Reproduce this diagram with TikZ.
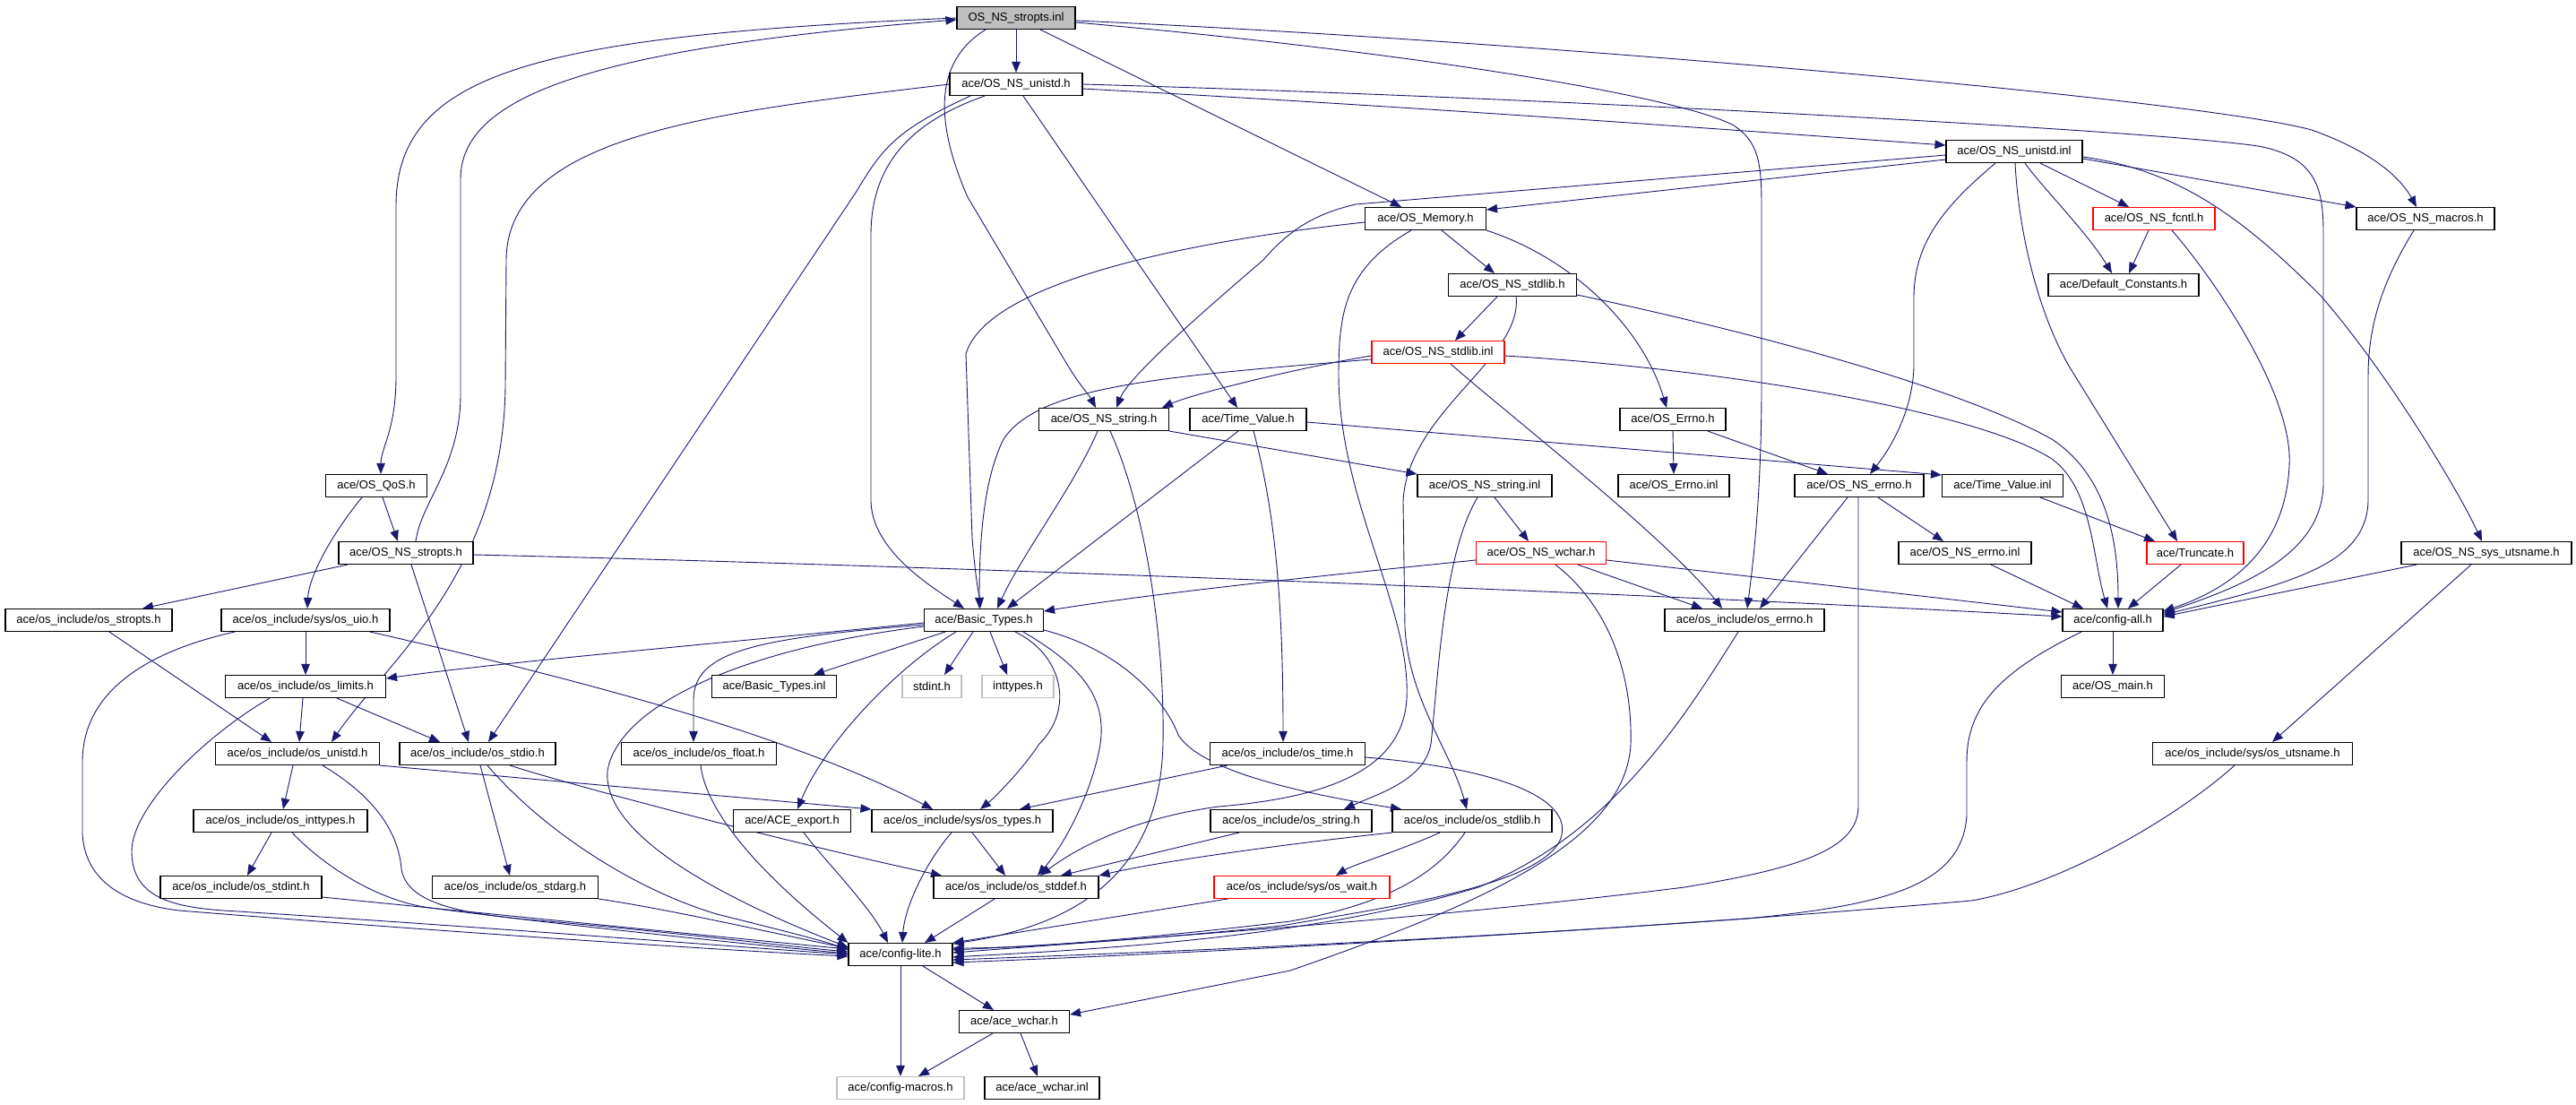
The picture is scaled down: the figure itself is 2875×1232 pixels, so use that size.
\documentclass[tikz,border=0pt]{standalone}
\usepackage{fontspec}
\setmainfont{Liberation Sans}
\usetikzlibrary{arrows.meta}
\pgfdeclarelayer{bg}
\pgfsetlayers{bg,main}
\definecolor{mblue}{RGB}{25,25,112}
\definecolor{grayb}{RGB}{191,191,191}
\begin{document}
\begin{tikzpicture}[x=1pt,y=-1pt,
 nbox/.style={draw=black,line width=1.1pt,fill=white,inner sep=0pt,minimum height=25pt,font=\fontsize{13}{15}\selectfont,text=black},
 redbox/.style={nbox,draw=red},
 graybox/.style={nbox,draw=grayb},
 rootbox/.style={nbox,fill=grayb},
 dep/.style={draw=mblue,line width=0.9pt,-{Triangle[length=12pt,width=9.5pt]}}]
\useasboundingbox (0,0) rectangle (2875,1232);
% nodes
\node[rootbox,minimum width=132pt] (root) at (1134,20) {OS\_NS\_stropts.inl};
\node[nbox,minimum width=148pt] (unistdh) at (1134,94) {ace/OS\_NS\_unistd.h};
\node[nbox,minimum width=152pt] (unistdinl) at (2248,169) {ace/OS\_NS\_unistd.inl};
\node[nbox,minimum width=135pt] (memory) at (1591,244) {ace/OS\_Memory.h};
\node[redbox,minimum width=136pt] (fcntl) at (2404,244) {ace/OS\_NS\_fcntl.h};
\node[nbox,minimum width=154pt] (macros) at (2707,244) {ace/OS\_NS\_macros.h};
\node[nbox,minimum width=143pt] (stdlibh) at (1688,318) {ace/OS\_NS\_stdlib.h};
\node[nbox,minimum width=168pt] (defconst) at (2370,318) {ace/Default\_Constants.h};
\node[redbox,minimum width=148pt] (stdlibinl) at (1605,393) {ace/OS\_NS\_stdlib.inl};
\node[nbox,minimum width=145pt] (stringh) at (1232,468) {ace/OS\_NS\_string.h};
\node[nbox,minimum width=130pt] (timevalh) at (1393,468) {ace/Time\_Value.h};
\node[nbox,minimum width=118pt] (errnoh) at (1867,468) {ace/OS\_Errno.h};
\node[nbox,minimum width=113pt] (qos) at (420,542) {ace/OS\_QoS.h};
\node[nbox,minimum width=150pt] (stringinl) at (1657,542) {ace/OS\_NS\_string.inl};
\node[nbox,minimum width=124pt] (errnoinl) at (1868,542) {ace/OS\_Errno.inl};
\node[nbox,minimum width=144pt] (nserrnoh) at (2075,542) {ace/OS\_NS\_errno.h};
\node[nbox,minimum width=135pt] (timevalinl) at (2235,542) {ace/Time\_Value.inl};
\node[nbox,minimum width=150pt] (stroptsh) at (453,617) {ace/OS\_NS\_stropts.h};
\node[redbox,minimum width=145pt] (wcharh) at (1720,617) {ace/OS\_NS\_wchar.h};
\node[nbox,minimum width=148pt] (nserrnoinl) at (2193,617) {ace/OS\_NS\_errno.inl};
\node[redbox,minimum width=108pt] (truncate) at (2450,617) {ace/Truncate.h};
\node[nbox,minimum width=190pt] (utsnameh) at (2775,617) {ace/OS\_NS\_sys\_utsname.h};
\node[nbox,minimum width=186pt] (osstropts) at (99,692) {ace/os\_include/os\_stropts.h};
\node[nbox,minimum width=188pt] (osuio) at (341,692) {ace/os\_include/sys/os\_uio.h};
\node[nbox,minimum width=133pt] (basic) at (1098,692) {ace/Basic\_Types.h};
\node[nbox,minimum width=178pt] (oserrno) at (1947,692) {ace/os\_include/os\_errno.h};
\node[nbox,minimum width=112pt] (configall) at (2358,692) {ace/config-all.h};
\node[nbox,minimum width=179pt] (oslimits) at (341,766) {ace/os\_include/os\_limits.h};
\node[nbox,minimum width=139pt] (basicinl) at (864,766) {ace/Basic\_Types.inl};
\node[graybox,minimum width=66pt] (stdint) at (1040,766) {stdint.h};
\node[graybox,minimum width=80pt] (inttypes) at (1136,766) {inttypes.h};
\node[nbox,minimum width=115pt] (osmain) at (2358,766) {ace/OS\_main.h};
\node[nbox,minimum width=183pt] (osunistd) at (332,841) {ace/os\_include/os\_unistd.h};
\node[nbox,minimum width=174pt] (osstdio) at (533,841) {ace/os\_include/os\_stdio.h};
\node[nbox,minimum width=173pt] (osfloat) at (780,841) {ace/os\_include/os\_float.h};
\node[nbox,minimum width=173pt] (ostime) at (1437,841) {ace/os\_include/os\_time.h};
\node[nbox,minimum width=223pt] (osutsname) at (2514,841) {ace/os\_include/sys/os\_utsname.h};
\node[nbox,minimum width=194pt] (osinttypes) at (313,916) {ace/os\_include/os\_inttypes.h};
\node[nbox,minimum width=131pt] (aceexport) at (884,916) {ace/ACE\_export.h};
\node[nbox,minimum width=202pt] (ostypes) at (1074,916) {ace/os\_include/sys/os\_types.h};
\node[nbox,minimum width=180pt] (osstring) at (1441,916) {ace/os\_include/os\_string.h};
\node[nbox,minimum width=178pt] (osstdlib) at (1643,916) {ace/os\_include/os\_stdlib.h};
\node[nbox,minimum width=180pt] (osstdint) at (269,990) {ace/os\_include/os\_stdint.h};
\node[nbox,minimum width=185pt] (osstdarg) at (575,990) {ace/os\_include/os\_stdarg.h};
\node[nbox,minimum width=184pt] (osstddef) at (1134,990) {ace/os\_include/os\_stddef.h};
\node[redbox,minimum width=196pt] (oswait) at (1453,990) {ace/os\_include/sys/os\_wait.h};
\node[nbox,minimum width=116pt] (configlite) at (1005,1065) {ace/config-lite.h};
\node[nbox,minimum width=123pt] (acewchar) at (1132,1140) {ace/ace\_wchar.h};
\node[graybox,minimum width=142pt] (configmacros) at (1005,1214) {ace/config-macros.h};
\node[nbox,minimum width=128pt] (acewcharinl) at (1163,1214) {ace/ace\_wchar.inl};
\begin{pgfonlayer}{bg}
\fill[white] (0,0) rectangle (2875,1232);
% root
\draw[dep] (root.south) -- (unistdh.north);
\draw[dep] (root.west) .. controls (600,40) and (442,80) .. (442,230) -- (442,420) .. controls (442,480) and (425,500) .. ([xshift=5pt]qos.north);
\draw[dep] ([xshift=11pt]stroptsh.north) .. controls (470,560) and (514,520) .. (514,440) -- (514,200) .. controls (514,110) and (650,55) .. ([yshift=-2pt]root.west);
\draw[dep] ([xshift=-34pt]root.south) .. controls (1040,70) and (1045,140) .. (1080,220) -- (1190,405) .. controls (1205,430) and (1215,440) .. ([xshift=-9pt]stringh.north);
\draw[dep] ([xshift=27pt]root.south) -- ([xshift=-27pt]memory.north);
\draw[dep] ([yshift=-3pt]root.east) .. controls (1700,45) and (2450,110) .. (2580,145) .. controls (2650,170) and (2680,200) .. ([xshift=-10pt]macros.north);
\draw[dep] ([yshift=-5pt]root.east) .. controls (1600,60) and (1880,110) .. (1935,140) .. controls (1962,158) and (1966,180) .. (1966,230) -- (1966,430) .. controls (1966,560) and (1955,640) .. ([xshift=3pt]oserrno.north);
% unistdh
\draw[dep] (unistdh.west) .. controls (800,125) and (566,150) .. (565,290) -- (564,430) .. controls (562,640) and (430,740) .. ([xshift=38pt]osunistd.north);
\draw[dep] ([xshift=-51pt]unistdh.south) .. controls (1000,145) and (985,165) .. (955,215) -- ([xshift=12pt]osstdio.north);
\draw[dep] ([xshift=-35pt]unistdh.south) .. controls (1020,135) and (973,180) .. (972,260) -- (972,560) .. controls (974,615) and (1040,655) .. ([xshift=-22pt]basic.north);
\draw[dep] ([xshift=8pt]unistdh.south) -- ([xshift=-12pt]timevalh.north);
\draw[dep] (unistdh.east) .. controls (1700,108) and (2400,145) .. (2520,163) .. controls (2585,175) and (2593,210) .. (2593,260) -- (2593,540) .. controls (2592,620) and (2500,655) .. ([yshift=8pt]configall.east);
\draw[dep] ([yshift=-5pt]unistdh.east) .. controls (1600,120) and (2000,150) .. ([yshift=7pt]unistdinl.west);
% unistdinl
\draw[dep] ([yshift=-9pt]unistdinl.west) -- ([yshift=10pt]memory.east);
\draw[dep] ([yshift=-4pt]unistdinl.west) -- (1513,228) .. controls (1470,238) and (1440,255) .. (1410,290) .. controls (1340,350) and (1260,420) .. ([xshift=14pt]stringh.north);
\draw[dep] ([xshift=-21pt]unistdinl.south) .. controls (2170,230) and (2137,270) .. (2136,330) -- (2136,410) .. controls (2134,460) and (2110,500) .. ([xshift=12pt]nserrnoh.north);
\draw[dep] ([xshift=1pt]unistdinl.south) .. controls (2253,260) and (2275,350) .. (2310,410) -- ([xshift=-20pt]truncate.north);
\draw[dep] ([xshift=12pt]unistdinl.south) .. controls (2280,210) and (2330,260) .. ([xshift=-13pt]defconst.north);
\draw[dep] ([xshift=29pt]unistdinl.south) -- ([xshift=-28pt]fcntl.north);
\draw[dep] ([yshift=-8pt]unistdinl.east) -- (macros.north west);
\draw[dep] ([yshift=-6pt]unistdinl.east) .. controls (2430,190) and (2500,240) .. (2590,330) .. controls (2660,410) and (2740,540) .. ([xshift=-5pt]utsnameh.north);
% memory
\draw[dep] ([xshift=18pt]memory.south) -- ([xshift=-20pt]stdlibh.north);
\draw[dep] ([yshift=-4pt]memory.west) .. controls (1300,272) and (1100,320) .. (1078,395) -- (1085,600) .. controls (1089,650) and (1093,665) .. ([xshift=-4pt]basic.north);
\draw[dep] (memory.south east) .. controls (1760,290) and (1835,370) .. ([xshift=-7pt]errnoh.north);
\draw[dep] ([xshift=-16pt]memory.south) .. controls (1500,300) and (1494,350) .. (1494,420) .. controls (1495,560) and (1575,680) .. (1570,780) .. controls (1565,860) and (1480,890) .. (1360,900) .. controls (1250,915) and (1190,955) .. ([xshift=27pt]osstddef.north);
% fcntl, macros
\draw[dep] ([xshift=-6pt]fcntl.south) -- ([xshift=6pt]defconst.north);
\draw[dep] ([xshift=20pt]fcntl.south) .. controls (2470,310) and (2560,440) .. (2555,520) .. controls (2550,620) and (2480,660) .. ([yshift=10pt]configall.east);
\draw[dep] ([xshift=-13pt]macros.south) .. controls (2655,320) and (2643,370) .. (2643,420) -- (2643,560) .. controls (2640,630) and (2560,650) .. ([yshift=6pt]configall.east);
% stdlibh
\draw[dep] ([xshift=-17pt]stdlibh.south) -- ([xshift=19pt]stdlibinl.north);
\draw[dep] ([xshift=4pt]stdlibh.south) .. controls (1700,400) and (1570,460) .. (1566,560) -- (1568,700) .. controls (1572,780) and (1620,840) .. ([xshift=-6pt]osstdlib.north);
\draw[dep] ([yshift=-11pt]stdlibh.east) .. controls (2000,380) and (2200,440) .. (2290,490) .. controls (2350,530) and (2364,600) .. ([xshift=6pt]configall.north);
% stdlibinl
\draw[dep] ([yshift=-4pt]stdlibinl.west) .. controls (1450,410) and (1330,440) .. ([xshift=65pt]stringh.north);
\draw[dep] ([yshift=-8pt]stdlibinl.west) .. controls (1300,420) and (1160,430) .. (1120,490) .. controls (1095,540) and (1093,620) .. ([xshift=-5pt]basic.north);
\draw[dep] ([xshift=14pt]stdlibinl.south) .. controls (1680,460) and (1860,600) .. ([xshift=-25pt]oserrno.north);
\draw[dep] ([yshift=-4pt]stdlibinl.east) .. controls (1900,410) and (2200,455) .. (2290,512) .. controls (2335,545) and (2335,620) .. ([xshift=-6pt]configall.north);
% stringh
\draw[dep] ([xshift=-7pt]stringh.south) .. controls (1200,540) and (1140,620) .. ([xshift=15pt]basic.north);
\draw[dep] (stringh.south east) -- (stringinl.north west);
\draw[dep] ([xshift=7pt]stringh.south) .. controls (1275,560) and (1300,700) .. (1298,830) .. controls (1295,960) and (1220,1030) .. ([yshift=12pt]configlite.east);
% timevalh
\draw[dep] ([xshift=-11pt]timevalh.south) -- ([xshift=26pt]basic.north);
\draw[dep] ([yshift=-3pt]timevalh.east) -- ([yshift=12pt]timevalinl.west);
\draw[dep] ([xshift=6pt]timevalh.south) .. controls (1420,560) and (1432,650) .. ([xshift=-5pt]ostime.north);
% errnoh
\draw[dep] (errnoh.south) -- (errnoinl.north);
\draw[dep] ([xshift=39pt]errnoh.south) -- ([xshift=-35pt]nserrnoh.north);
% qos
\draw[dep] ([xshift=7pt]qos.south) -- ([xshift=-9pt]stroptsh.north);
\draw[dep] ([xshift=-16pt]qos.south) .. controls (375,590) and (345,640) .. ([xshift=2pt]osuio.north);
% stroptsh
\draw[dep] ([xshift=-65pt]stroptsh.south) -- ([xshift=60pt]osstropts.north);
\draw[dep] ([yshift=-2pt]stroptsh.east) .. controls (1000,630) and (1800,660) .. ([yshift=4pt]configall.west);
\draw[dep] ([xshift=6pt]stroptsh.south) -- ([xshift=-10pt]osstdio.north);
% stringinl
\draw[dep] ([xshift=11pt]stringinl.south) -- ([xshift=-14pt]wcharh.north);
\draw[dep] ([xshift=-8pt]stringinl.south) .. controls (1610,620) and (1605,760) .. (1597,830) .. controls (1590,870) and (1540,885) .. ([xshift=59pt]osstring.north);
% nserrnoh
\draw[dep] ([xshift=-13pt]nserrnoh.south) -- ([xshift=17pt]oserrno.north);
\draw[dep] ([xshift=21pt]nserrnoh.south) -- ([xshift=-24pt]nserrnoinl.north);
\draw[dep] ([xshift=-1pt]nserrnoh.south) -- (2074,900) .. controls (2074,950) and (2000,970) .. (1880,990) .. controls (1600,1025) and (1300,1045) .. ([yshift=2pt]configlite.east);
% timevalinl
\draw[dep] ([xshift=42pt]timevalinl.south) -- ([xshift=-45pt]truncate.north);
% wcharh
\draw[dep] ([yshift=-8pt]wcharh.west) .. controls (1500,640) and (1300,660) .. ([yshift=10pt]basic.east);
\draw[dep] ([xshift=41pt]wcharh.south) -- ([xshift=-47pt]oserrno.north);
\draw[dep] ([yshift=-8pt]wcharh.east) -- ([yshift=9pt]configall.west);
\draw[dep] ([xshift=16pt]wcharh.south) .. controls (1800,680) and (1822,760) .. (1820,830) .. controls (1815,940) and (1650,1010) .. (1440,1083) -- ([yshift=8pt]acewchar.east);
% nserrnoinl, truncate, utsnameh
\draw[dep] ([xshift=29pt]nserrnoinl.south) -- ([xshift=-33pt]configall.north);
\draw[dep] ([xshift=-16pt]truncate.south) -- ([xshift=17pt]configall.north);
\draw[dep] ([xshift=-78pt]utsnameh.south) -- ([yshift=4pt]configall.east);
\draw[dep] ([xshift=-17pt]utsnameh.south) -- ([xshift=22pt]osutsname.north);
% osstropts
\draw[dep] ([xshift=23pt]osstropts.south) -- ([xshift=-29pt]osunistd.north);
% osuio
\draw[dep] (osuio.south) -- (oslimits.north);
\draw[dep] ([xshift=72pt]osuio.south) .. controls (700,770) and (900,830) .. ([xshift=-33pt]ostypes.north);
\draw[dep] ([xshift=-79pt]osuio.south) .. controls (150,730) and (92,780) .. (92,850) -- (92,930) .. controls (95,990) and (150,1010) .. (200,1016) .. controls (500,1040) and (800,1060) .. ([yshift=-2pt]configlite.west);
% oslimits
\draw[dep] ([xshift=-3pt]oslimits.south) -- ([xshift=2pt]osunistd.north);
\draw[dep] ([xshift=35pt]oslimits.south) -- ([xshift=-42pt]osstdio.north);
\draw[dep] ([xshift=-40pt]oslimits.south) .. controls (230,820) and (147,900) .. (147,950) .. controls (147,1000) and (190,1012) .. (250,1016) .. controls (550,1035) and (800,1055) .. (configlite.west);
% basic
\draw[dep] ([xshift=-43pt]basic.south) -- ([xshift=44pt]basicinl.north);
\draw[dep] ([xshift=-12pt]basic.south) -- ([xshift=14pt]stdint.north);
\draw[dep] ([xshift=7pt]basic.south) -- ([xshift=-12pt]inttypes.north);
\draw[dep] ([yshift=-3pt]basic.west) .. controls (800,718) and (550,740) .. ([yshift=9pt]oslimits.east);
\draw[dep] ([yshift=-5pt]basic.west) .. controls (850,712) and (775,725) .. (774,780) -- ([xshift=-6pt]osfloat.north);
\draw[dep] ([yshift=-7pt]basic.west) .. controls (820,725) and (690,790) .. (678,860) .. controls (672,930) and (800,1000) .. ([yshift=8pt]configlite.west);
\draw[dep] ([xshift=-31pt]basic.south) .. controls (1000,745) and (920,830) .. ([xshift=6pt]aceexport.north);
\draw[dep] ([xshift=35pt]basic.south) .. controls (1185,730) and (1200,790) .. (1160,830) .. controls (1140,860) and (1110,890) .. ([xshift=20pt]ostypes.north);
\draw[dep] ([xshift=44pt]basic.south) .. controls (1210,745) and (1235,780) .. (1228,830) .. controls (1220,880) and (1190,940) .. ([xshift=24pt]osstddef.north);
\draw[dep] ([yshift=-11pt]basic.east) .. controls (1250,725) and (1300,780) .. (1315,820) .. controls (1340,860) and (1450,885) .. ([xshift=-79pt]osstdlib.north);
% oserrno
\draw[dep] ([xshift=-7pt]oserrno.south) .. controls (1880,800) and (1800,930) .. (1650,990) .. controls (1450,1050) and (1200,1060) .. ([yshift=-3pt]configlite.east);
% configall
\draw[dep] (configall.south) -- (osmain.north);
\draw[dep] ([xshift=-35pt]configall.south) .. controls (2230,750) and (2195,790) .. (2195,850) -- (2195,910) .. controls (2190,990) and (2100,1010) .. (1950,1025) .. controls (1600,1050) and (1300,1062) .. ([yshift=-6pt]configlite.east);
% osutsname
\draw[dep] ([xshift=-20pt]osutsname.south) .. controls (2420,920) and (2290,990) .. (2200,1005) .. controls (1800,1040) and (1300,1065) .. ([yshift=-9pt]configlite.east);
% osunistd
\draw[dep] ([xshift=-5pt]osunistd.south) -- ([xshift=3pt]osinttypes.north);
\draw[dep] (osunistd.south east) -- ([yshift=13pt]ostypes.west);
\draw[dep] ([xshift=28pt]osunistd.south) .. controls (420,890) and (445,930) .. (448,970) .. controls (455,1010) and (520,1020) .. (600,1027) .. controls (750,1040) and (870,1055) .. ([yshift=3pt]configlite.west);
% osstdio
\draw[dep] ([xshift=3pt]osstdio.south) -- ([xshift=-6pt]osstdarg.north);
\draw[dep] ([xshift=36pt]osstdio.south) .. controls (650,880) and (900,945) .. ([xshift=-83pt]osstddef.north);
\draw[dep] ([xshift=11pt]osstdio.south) .. controls (600,920) and (700,990) .. (800,1020) .. controls (880,1040) and (920,1050) .. ([yshift=5pt]configlite.west);
% lower nodes
\draw[dep] ([xshift=2pt]osfloat.south) .. controls (790,920) and (880,1000) .. (configlite.north west);
\draw[dep] ([xshift=13pt]aceexport.south) .. controls (920,960) and (970,1010) .. ([xshift=-14pt]configlite.north);
\draw[dep] ([xshift=-12pt]ostypes.south) .. controls (1035,960) and (1010,1010) .. ([xshift=2pt]configlite.north);
\draw[dep] ([xshift=11pt]ostypes.south) -- ([xshift=-12pt]osstddef.north);
\draw[dep] ([xshift=-24pt]osstddef.south) -- ([xshift=27pt]configlite.north);
\draw[dep] ([xshift=-67pt]ostime.south) -- ([xshift=64pt]ostypes.north);
\draw[dep] ([yshift=-4pt]ostime.east) .. controls (1700,860) and (1760,900) .. (1740,940) .. controls (1710,990) and (1550,1012) .. (1430,1033) .. controls (1250,1052) and (1100,1058) .. ([yshift=5pt]configlite.east);
\draw[dep] ([xshift=-58pt]osstring.south) -- ([xshift=50pt]osstddef.north);
\draw[dep] (osstdlib.south west) .. controls (1450,940) and (1300,960) .. (osstddef.north east);
\draw[dep] ([xshift=-36pt]osstdlib.south) .. controls (1560,950) and (1510,965) .. ([xshift=38pt]oswait.north);
\draw[dep] ([xshift=-8pt]osstdlib.south) .. controls (1600,980) and (1540,1010) .. (1440,1028) .. controls (1300,1045) and (1150,1058) .. ([yshift=7pt]configlite.east);
\draw[dep] ([xshift=-83pt]oswait.south) -- (configlite.north east);
\draw[dep] ([xshift=-10pt]osinttypes.south) -- ([xshift=7pt]osstdint.north);
\draw[dep] ([xshift=13pt]osinttypes.south) .. controls (360,965) and (420,1005) .. (480,1013) .. controls (650,1035) and (850,1055) .. ([yshift=1pt]configlite.west);
\draw[dep] ([yshift=-11pt]osstdint.east) .. controls (600,1025) and (850,1050) .. ([yshift=6pt]configlite.west);
\draw[dep] (osstdarg.south east) .. controls (750,1015) and (880,1045) .. ([yshift=7pt]configlite.west);
\draw[dep] (configlite.south) -- (configmacros.north);
\draw[dep] ([xshift=25pt]configlite.south) -- ([xshift=-23pt]acewchar.north);
\draw[dep] ([xshift=-24pt]acewchar.south) -- ([xshift=20pt]configmacros.north);
\draw[dep] ([xshift=7pt]acewchar.south) -- ([xshift=-5pt]acewcharinl.north);
\end{pgfonlayer}
\end{tikzpicture}
\end{document}
